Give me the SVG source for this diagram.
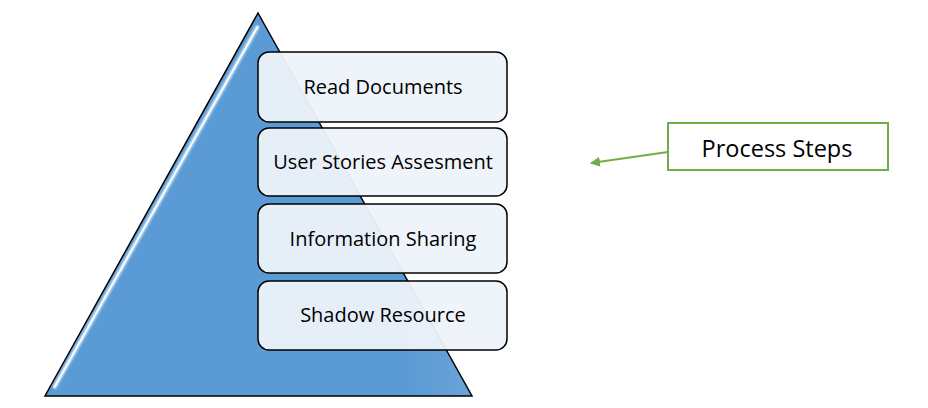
<svg xmlns="http://www.w3.org/2000/svg" width="928" height="408" viewBox="0 0 928 408">
<defs>
<style>
.step{fill:#eef3fa;fill-opacity:0.95;stroke:#000;stroke-width:1.5}
.lbl{font-family:"Open Sans","Noto Sans",sans-serif;font-size:20px;fill:#000;text-anchor:middle}
.big{font-size:23.5px}
</style>
<linearGradient id="shade" x1="0" y1="0" x2="1" y2="0">
<stop offset="0" stop-color="#5b9bd5"/>
<stop offset="0.85" stop-color="#5b9bd5"/>
<stop offset="1" stop-color="#6aa3d8"/>
</linearGradient>
<filter id="soft" x="-10%" y="-10%" width="120%" height="120%"><feGaussianBlur stdDeviation="1.2"/></filter>
<marker id="ah" viewBox="0 0 10 10" refX="9" refY="5" markerWidth="5" markerHeight="5" orient="auto-start-reverse">
<path d="M0,0 L10,5 L0,10 z" fill="#70ad47"/>
</marker>
</defs>
<rect width="928" height="408" fill="#fff"/>
<g id="pyramid">
<polygon points="258,13 472,396 45,396" fill="url(#shade)" stroke="#000" stroke-width="1.5"/>
<path d="M258,26 L54,388" stroke="#cfe3f6" stroke-width="4" filter="url(#soft)" fill="none"/>
<path d="M258,26 L54,388" stroke="#fff" stroke-width="1.6" fill="none"/>
<path d="M54,390 L462,390" stroke="#8dbbe5" stroke-width="2" filter="url(#soft)" fill="none"/>
</g>
<g id="step1">
<rect class="step" x="258" y="52" width="249" height="70" rx="11"/>
<text class="lbl" x="383" y="94">Read Documents</text>
</g>
<g id="step2">
<rect class="step" x="258" y="128" width="249" height="68" rx="11"/>
<text class="lbl" x="383" y="169">User Stories Assesment</text>
</g>
<g id="step3">
<rect class="step" x="258" y="204" width="249" height="69" rx="11"/>
<text class="lbl" x="383" y="246">Information Sharing</text>
</g>
<g id="step4">
<rect class="step" x="258" y="281" width="249" height="69" rx="11"/>
<text class="lbl" x="383" y="322">Shadow Resource</text>
</g>
<g id="label">
<rect x="668" y="123" width="220" height="47" fill="#fff" stroke="#70ad47" stroke-width="2"/>
<text class="lbl big" x="777" y="157">Process Steps</text>
</g>
<g id="connectors">
<line x1="668" y1="152" x2="591" y2="163" stroke="#70ad47" stroke-width="2" marker-end="url(#ah)"/>
</g>
</svg>
